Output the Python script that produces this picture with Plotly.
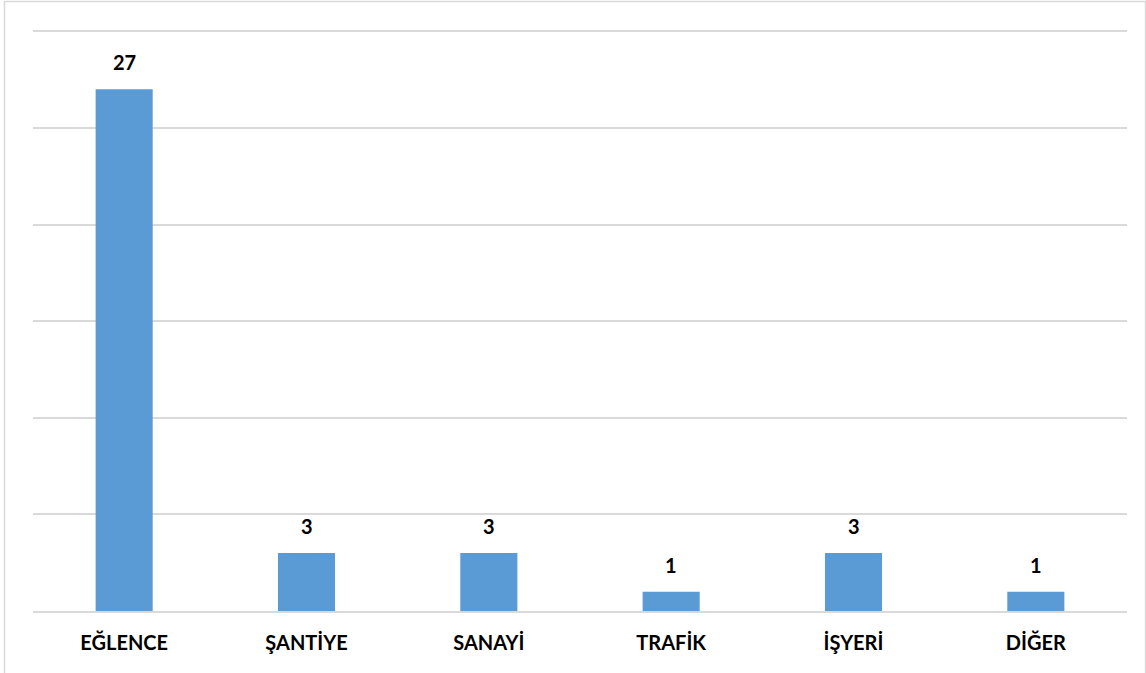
import plotly.graph_objects as go

categories = ["EĞLENCE", "ŞANTİYE", "SANAYİ", "TRAFİK", "İŞYERİ", "DİĞER"]
counts = [27, 3, 3, 1, 3, 1]

W, H = 1146, 673
L, R, B = 33, 19, 62
Y_MAX = 31
unit_px = 580 / 30
T = int(round(H - B - Y_MAX * unit_px))
plot_w = W - L - R
plot_h = H - T - B

bar_color = "#5B9BD5"
grid_color = "#D9D9D9"
font_family = "Lato"

fig = go.Figure(
    go.Bar(
        x=categories,
        y=counts,
        marker=dict(color=bar_color, line=dict(width=0)),
        hoverinfo="x+y",
    )
)

# value labels above each bar
for cat, val in zip(categories, counts):
    fig.add_annotation(
        x=cat, y=val, text=f"<b>{val}</b>", showarrow=False,
        yanchor="bottom", yshift=13,
        font=dict(family=font_family, size=20, color="#000000"),
    )

# light frame around the whole chart area
def px_to_paper_x(px):
    return (px - L) / plot_w

def px_to_paper_y(py):
    return (H - B - py) / plot_h

fig.add_shape(
    type="rect", xref="paper", yref="paper",
    x0=px_to_paper_x(4.5), x1=px_to_paper_x(1145.5),
    y0=px_to_paper_y(690), y1=px_to_paper_y(1.5),
    line=dict(color=grid_color, width=1.5), fillcolor="rgba(0,0,0,0)",
    layer="below",
)

fig.update_layout(
    width=W, height=H,
    margin=dict(l=L, r=R, t=T, b=B),
    paper_bgcolor="white", plot_bgcolor="white",
    bargap=0.687,
    showlegend=False,
    font=dict(family=font_family, color="#000000"),
    xaxis=dict(
        showgrid=False, showline=True, linecolor=grid_color, linewidth=2,
        ticks="", ticklabelstandoff=13,
        tickfont=dict(family=font_family, size=20, color="#000000", weight="bold"),
        fixedrange=True,
    ),
    yaxis=dict(
        range=[0, Y_MAX], tickvals=[5, 10, 15, 20, 25, 30], showgrid=True,
        gridcolor=grid_color, gridwidth=1.5,
        showticklabels=False, zeroline=False, showline=False, ticks="",
        fixedrange=True,
    ),
)

fig.write_html("out.html")
